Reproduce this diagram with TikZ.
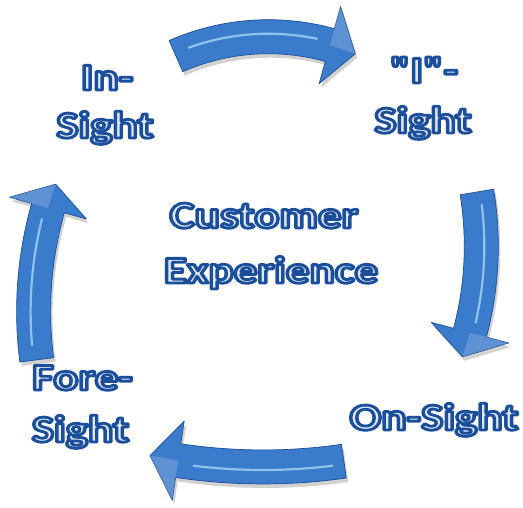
\documentclass[tikz,border=0pt]{standalone}
\usepackage{fontspec}
\newfontfamily\lblfont{Carlito}
\usepackage{graphicx}
\definecolor{arrowmain}{HTML}{3B7BCB}
\definecolor{arrowdark}{HTML}{1D4F98}
\definecolor{arrowlight}{HTML}{A6D4F7}
\definecolor{txtline}{HTML}{1B4F9C}
\definecolor{txtfill}{HTML}{E0E7F0}
\tikzset{
  arrowbody/.style={fill=arrowmain, draw=arrowdark, line width=0.7pt, line join=round},
  arrowshadow/.style={fill=black, opacity=0.18},
  arrowstripe/.style={draw=arrowlight, line width=2.2pt, line cap=round, opacity=0.8},
  arrowfacet/.style={fill=white, opacity=0.18},
  lbl/.style={inner sep=0pt, anchor=base, text=txtfill, font=\lblfont\bfseries\fontsize{38}{46}\selectfont}
}
\newcommand\otext[1]{\scalebox{1.24}[1]{\special{pdf:literal direct 2 Tr 2.8 w 0.106 0.31 0.612 RG 1 j}#1\special{pdf:literal direct 0 Tr}}}
% #1 cx, #2 cy, #3 R, #4 tail angle, #5 base angle, #6 tip angle, #7 stripe start, #8 stripe end
\newcommand\cyarrow[8]{%
  \begin{scope}[shift={(#1,#2)}]
    \fill[arrowshadow, shift={(2,-4)}] ({#4}:{#3+17}) arc[start angle=#4, end angle=#5, radius=#3+17]
      -- ({#5}:{#3+40}) -- ({#6}:{#3}) -- ({#5}:{#3-40}) -- ({#5}:{#3-17})
      arc[start angle=#5, end angle=#4, radius=#3-17] -- cycle;
    \path[arrowbody] ({#4}:{#3+17}) arc[start angle=#4, end angle=#5, radius=#3+17]
      -- ({#5}:{#3+40}) -- ({#6}:{#3}) -- ({#5}:{#3-40}) -- ({#5}:{#3-17})
      arc[start angle=#5, end angle=#4, radius=#3-17] -- cycle;
    \fill[arrowfacet] ({#5}:{#3+40}) -- ({#6}:{#3}) -- ({#5}:{#3}) -- cycle;
    \draw[arrowstripe] ({#7}:{#3+3}) arc[start angle=#7, end angle=#8, radius=#3+3];
  \end{scope}}
\begin{document}
\begin{tikzpicture}[x=1pt,y=1pt]
\useasboundingbox (0,0) rectangle (523,508);
\fill[white] (0,0) rectangle (523,508);
% arrows
\cyarrow{268.4}{241.3}{230}{113.7}{74.5}{67.8}{110}{78}
\cyarrow{145.3}{261.7}{336}{9.3}{-14.9}{-19.2}{7}{-13}
\cyarrow{263}{608}{567}{-81.8}{-98.6}{-101.5}{-83}{-97}
\cyarrow{413.6}{196.4}{380}{187.3}{164.2}{160.4}{185}{166}
% labels
\node[lbl] (in1) at (107,418) {\otext{In-}};
\node[lbl] (in2) at (105,370) {\otext{Sight}};
\node[lbl] (i1) at (424,425) {\otext{"I"-}};
\node[lbl] (i2) at (423,375) {\otext{Sight}};
\node[lbl] (c1) at (264,280) {\otext{Customer}};
\node[lbl] (c2) at (271,225) {\otext{Experience}};
\node[lbl] (f1) at (82.5,118) {\otext{Fore-}};
\node[lbl] (f2) at (80.5,66) {\otext{Sight}};
\node[lbl] (on) at (434,78) {\otext{On-Sight}};
\end{tikzpicture}
\end{document}
